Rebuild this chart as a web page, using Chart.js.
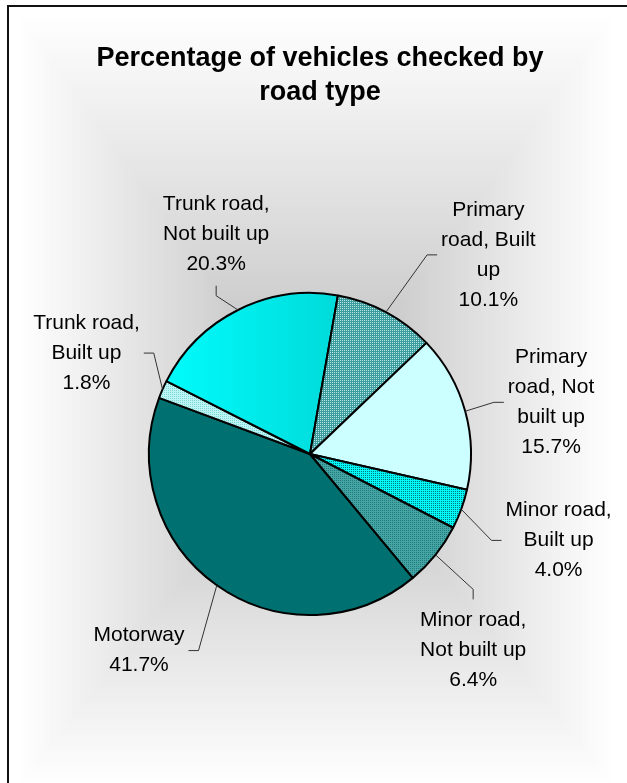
<!DOCTYPE html>
<html><head><meta charset="utf-8">
<script src="https://cdn.jsdelivr.net/npm/chart.js@4/dist/chart.umd.min.js"></script>
<style>html,body{margin:0;padding:0;background:#fff;overflow:hidden}canvas{display:block}</style>
</head><body>
<canvas id="c" width="627" height="783"></canvas>
<script>
// ---- data ----
const categories = ['Motorway','Trunk road, Built up','Trunk road, Not built up','Primary road, Built up','Primary road, Not built up','Minor road, Built up','Minor road, Not built up'];
const values = [41.7, 1.8, 20.3, 10.1, 15.7, 4.0, 6.4];
const labelLines = [['Motorway'],['Trunk road,','Built up'],['Trunk road,','Not built up'],['Primary','road, Built','up'],['Primary','road, Not','built up'],['Minor road,','Built up'],['Minor road,','Not built up']];
const titleLines = ['Percentage of vehicles checked by','road type'];

// ---- label layout (offset angle from slice middle in degrees, extra distance beyond the rim) ----
const labelPlacement = [
  {dA:-5.8, ext:65, side:'left'},
  {dA:9.2,  ext:25, side:'left'},
  {dA:-4.1, ext:23, side:'top'},
  {dA:2.3,  ext:70, side:'right'},
  {dA:-0.3, ext:30, side:'right'},
  {dA:5.4,  ext:40, side:'right'},
  {dA:0.9,  ext:51, side:'bottom'}
];

function makePattern(size, bg, fg, cells){
  const c = document.createElement('canvas'); c.width = size; c.height = size;
  const g = c.getContext('2d'); g.fillStyle = bg; g.fillRect(0,0,size,size);
  g.fillStyle = fg; cells.forEach(p => g.fillRect(p[0],p[1],1,1));
  return document.getElementById('c').getContext('2d').createPattern(c,'repeat');
}
const fills = [
  '#007070',
  makePattern(2,'#BDF5F5','#7ED8D8',[[0,0]]),
  null,
  makePattern(2,'#3A9C9C','#BFE6E6',[[0,0]]),
  '#CCFFFF',
  makePattern(2,'#00FAFA','#007A7A',[[1,1]]),
  makePattern(2,'#45A5A5','#227A7A',[[0,0]])
];

const FONT = '"Liberation Sans", Arial, sans-serif';

const bgPlugin = {
  id:'bg',
  beforeDraw(chart){
    const ctx = chart.ctx;
    ctx.save();
    ctx.fillStyle = '#fff'; ctx.fillRect(0,0,chart.width,chart.height);
    const x0=20, x1=612, y0=18, y1=782, cx=(x0+x1)/2, cy=420;
    const hw=(x1-x0)/2, hhT=cy-y0, hhB=y1-cy;
    const N=90;
    for(let i=0;i<=N;i++){
      const t=1-i/N;
      const c=Math.round(182+72*Math.pow(t,0.9));
      ctx.fillStyle='rgb('+c+','+c+','+c+')';
      ctx.fillRect(cx-hw*t, cy-hhT*t, 2*hw*t, (hhT+hhB)*t);
    }
    ctx.strokeStyle='#111'; ctx.lineWidth=2;
    ctx.strokeRect(8,6,chart.width+20,chart.height+20);
    ctx.restore();
  },
  afterDatasetsDraw(chart){
    const ctx = chart.ctx;
    ctx.save();
    // title
    ctx.fillStyle='#000';
    ctx.font='bold 27px '+FONT;
    ctx.textAlign='center'; ctx.textBaseline='middle';
    titleLines.forEach((l,k)=>ctx.fillText(l,320,59+k*34));
    // labels
    const meta = chart.getDatasetMeta(0);
    ctx.font='21px '+FONT;
    const lh=30;
    meta.data.forEach((arc,i)=>{
      const p = arc.getProps(['x','y','startAngle','endAngle','outerRadius'],true);
      const mid=(p.startAngle+p.endAngle)/2;
      const pl=labelPlacement[i];
      const a=mid+pl.dA*Math.PI/180;
      const ex=p.x+Math.cos(mid)*p.outerRadius, ey=p.y+Math.sin(mid)*p.outerRadius;
      const d=p.outerRadius+pl.ext;
      const ax=p.x+Math.cos(a)*d, ay=p.y+Math.sin(a)*d;
      const lines=[...labelLines[i], values[i].toFixed(1)+'%'];
      const w=Math.max(...lines.map(l=>ctx.measureText(l).width));
      const h=lines.length*lh;
      let sx=ax, sy=ay, tcx, top;
      if(pl.side==='right'){ sx=ax+10; tcx=sx+4+w/2; top=ay-h/2; }
      else if(pl.side==='left'){ sx=ax-10; tcx=sx-4-w/2; top=ay-h/2; }
      else if(pl.side==='top'){ sy=ay-10; tcx=ax; top=sy-7-h; }
      else { sy=ay+10; tcx=ax; top=sy+6; }
      ctx.strokeStyle='#333'; ctx.lineWidth=1;
      ctx.beginPath(); ctx.moveTo(ex,ey); ctx.lineTo(ax,ay); ctx.lineTo(sx,sy); ctx.stroke();
      ctx.fillStyle='#000'; ctx.textAlign='center'; ctx.textBaseline='middle';
      lines.forEach((l,k)=>ctx.fillText(l,tcx,top+lh*(k+0.5)));
    });
    ctx.restore();
  }
};

new Chart(document.getElementById('c'),{
  type:'pie',
  data:{
    labels:categories,
    datasets:[{
      data:values,
      backgroundColor:(ctx)=>{
        const i=ctx.dataIndex;
        if(i===2){
          const ca=ctx.chart.chartArea;
          if(!ca) return '#00EEEE';
          const cx=(ca.left+ca.right)/2;
          const g=ctx.chart.ctx.createLinearGradient(cx-160,0,cx+30,0);
          g.addColorStop(0,'#00FFFF'); g.addColorStop(1,'#00DADA');
          return g;
        }
        return fills[i];
      },
      borderColor:'#000',
      borderWidth:2,
      hoverOffset:0
    }]
  },
  options:{
    responsive:false,
    animation:false,
    events:[],
    rotation:140.3,
    radius:161,
    layout:{padding:{left:140,right:147,top:284,bottom:159}},
    plugins:{legend:{display:false},title:{display:false},tooltip:{enabled:false}}
  },
  plugins:[bgPlugin]
});
</script>
</body></html>
